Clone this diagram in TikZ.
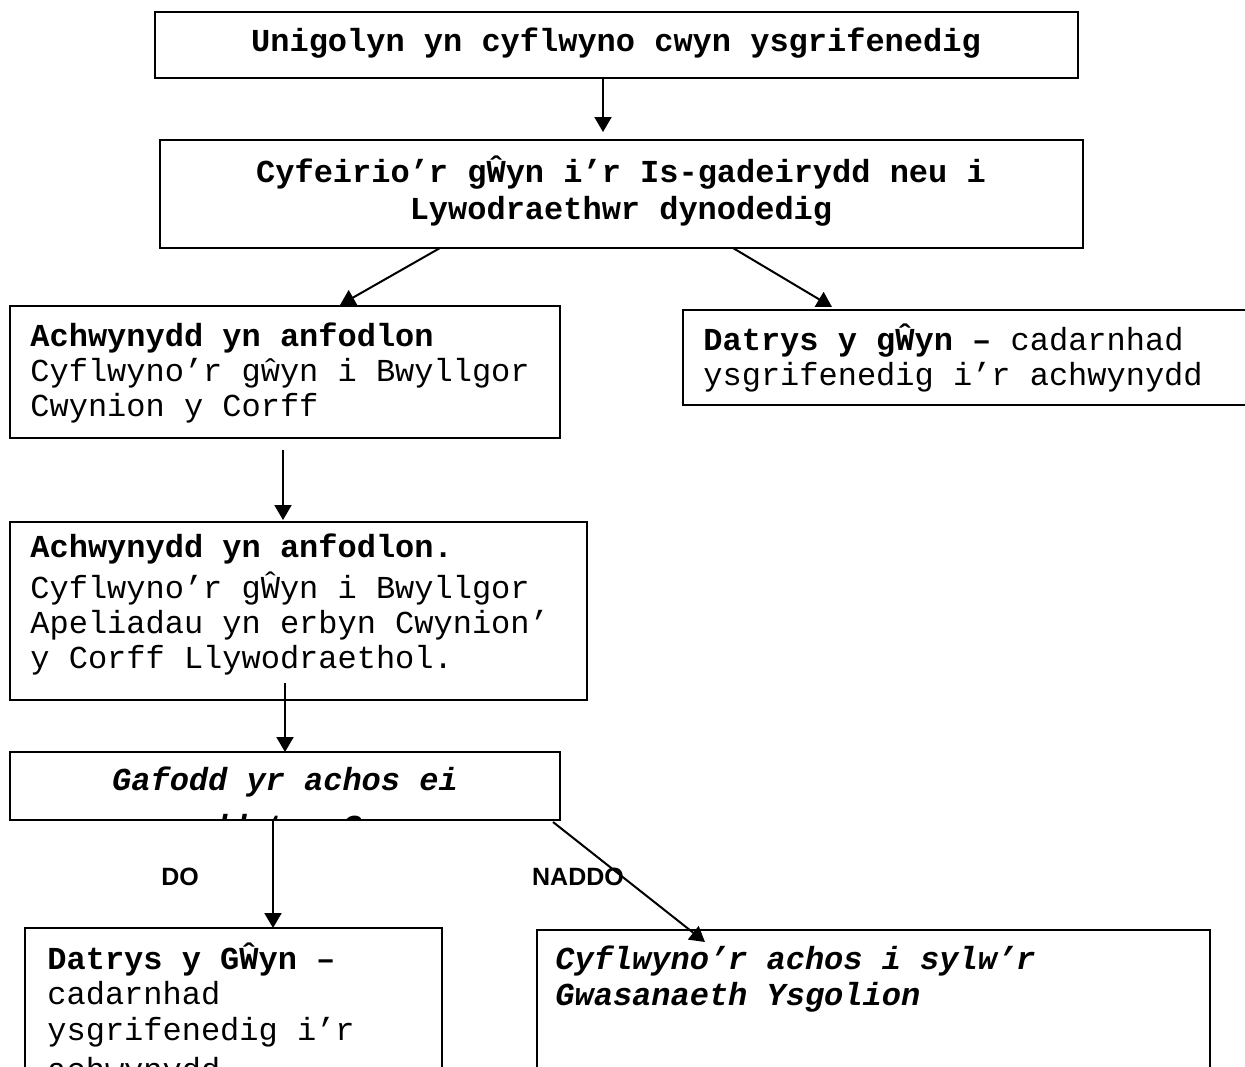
\documentclass[tikz,border=0pt]{standalone}
\usepackage{fontspec}
\newfontfamily\courf{Liberation Mono}
\newfontfamily\arialf{Liberation Sans}
\usetikzlibrary{arrows.meta,calc}
\newcommand\flowbox[5]{\node[box, minimum width={(#4-#2)*0.5pt}, minimum height={(#5-#3)*0.5pt}] (#1) at (#2,#3) {};}
\newcommand\monosize[1]{\courf\fontsize{16pt}{#1}\selectfont}
\newcommand\monosp{\spaceskip=9.6pt\relax\xspaceskip=9.6pt\relax}
\begin{document}
\begin{tikzpicture}[x=0.5pt,y=-0.5pt,
  box/.style={draw, line width=1pt, rectangle, inner sep=0pt, outer sep=0pt, anchor=north west},
  txt/.style={font=\monosize{17.5pt}, inner sep=0pt, text width=330pt, align=left, anchor=base west, execute at begin node=\monosp},
  ctxt/.style={font=\monosize{18.5pt}\bfseries, inner sep=0pt, text width=520pt, align=center, anchor=base, execute at begin node=\monosp},
  arr/.style={line width=1pt, -{Triangle[length=7.5pt,width=8.5pt]}},
  lab/.style={font=\arialf\bfseries\fontsize{12.5pt}{15pt}\selectfont, inner sep=0pt}]
\clip (0,0) rectangle (1245,1066);
\fill[white] (0,0) rectangle (1245,1066);

% boxes
\flowbox{b1}{155}{12}{1078}{78}
\flowbox{b2}{160}{140}{1083}{248}
\flowbox{b3}{10}{306}{560}{438}
\flowbox{b4}{683}{310}{1265}{405}
\flowbox{b5}{10}{522}{587}{700}
\flowbox{b6}{10}{752}{560}{820}
\flowbox{b7}{25}{928}{442}{1100}
\flowbox{b8}{537}{930}{1210}{1100}

% texts
\node[ctxt] (t1) at (616,51) {Unigolyn yn cyflwyno cwyn ysgrifenedig};
\node[ctxt] (t2) at (621,182) {Cyfeirio’r gŴyn i’r Is-gadeirydd neu i\\Lywodraethwr dynodedig};
\node[txt] (t3) at (30,346) {\textbf{Achwynydd yn anfodlon}\\Cyflwyno’r gŵyn i Bwyllgor\\Cwynion y Corff};
\node[txt] (t4) at (703,350) {\textbf{Datrys y gŴyn –} cadarnhad\\ysgrifenedig i’r achwynydd};
\node[txt] (t5) at (30,557) {\textbf{Achwynydd yn anfodlon.}\\[3pt]Cyflwyno’r gŴyn i Bwyllgor\\Apeliadau yn erbyn Cwynion’\\y Corff Llywodraethol.};
\begin{scope}
  \clip (b6.north west) rectangle (b6.south east);
  \node[ctxt, font=\monosize{18.5pt}\bfseries\itshape] (t6) at (285,790) {Gafodd yr achos ei\\[5pt]ddatrys?};
\end{scope}
\node[txt, font=\monosize{17.8pt}] (t7) at (47,969) {\textbf{Datrys y GŴyn –}\\cadarnhad\\ysgrifenedig i’r\\[2.5pt]achwynydd};
\node[txt, font=\monosize{18pt}\bfseries\itshape] (t8) at (555,969) {Cyflwyno’r achos i sylw’r\\Gwasanaeth Ysgolion};

\node[lab] (do) at (180,877) {DO};
\node[lab] (naddo) at (578,877) {NADDO};

% connectors
\draw[arr] ($(b1.south west)+(448,0)$) -- ($(b2.north west)+(443,-8)$);
\draw[arr] ($(b2.south west)+(280,0)$) -- ($(b3.north west)+(330,-1)$);
\draw[arr] ($(b2.south west)+(573,0)$) -- ($(b4.north west)+(149,-3)$);
\draw[arr] ($(b3.south west)+(273,12)$) -- ($(b5.north west)+(273,-2)$);
\draw[arr] ($(b5.south west)+(275,-17)$) -- ($(b6.north west)+(275,0)$);
\draw[arr] ($(b6.south west)+(263,0)$) -- ($(b7.north west)+(248,0)$);
\draw[arr] ($(b6.south east)+(-7,2)$) -- ($(b8.north west)+(168,12)$);
\end{tikzpicture}
\end{document}
